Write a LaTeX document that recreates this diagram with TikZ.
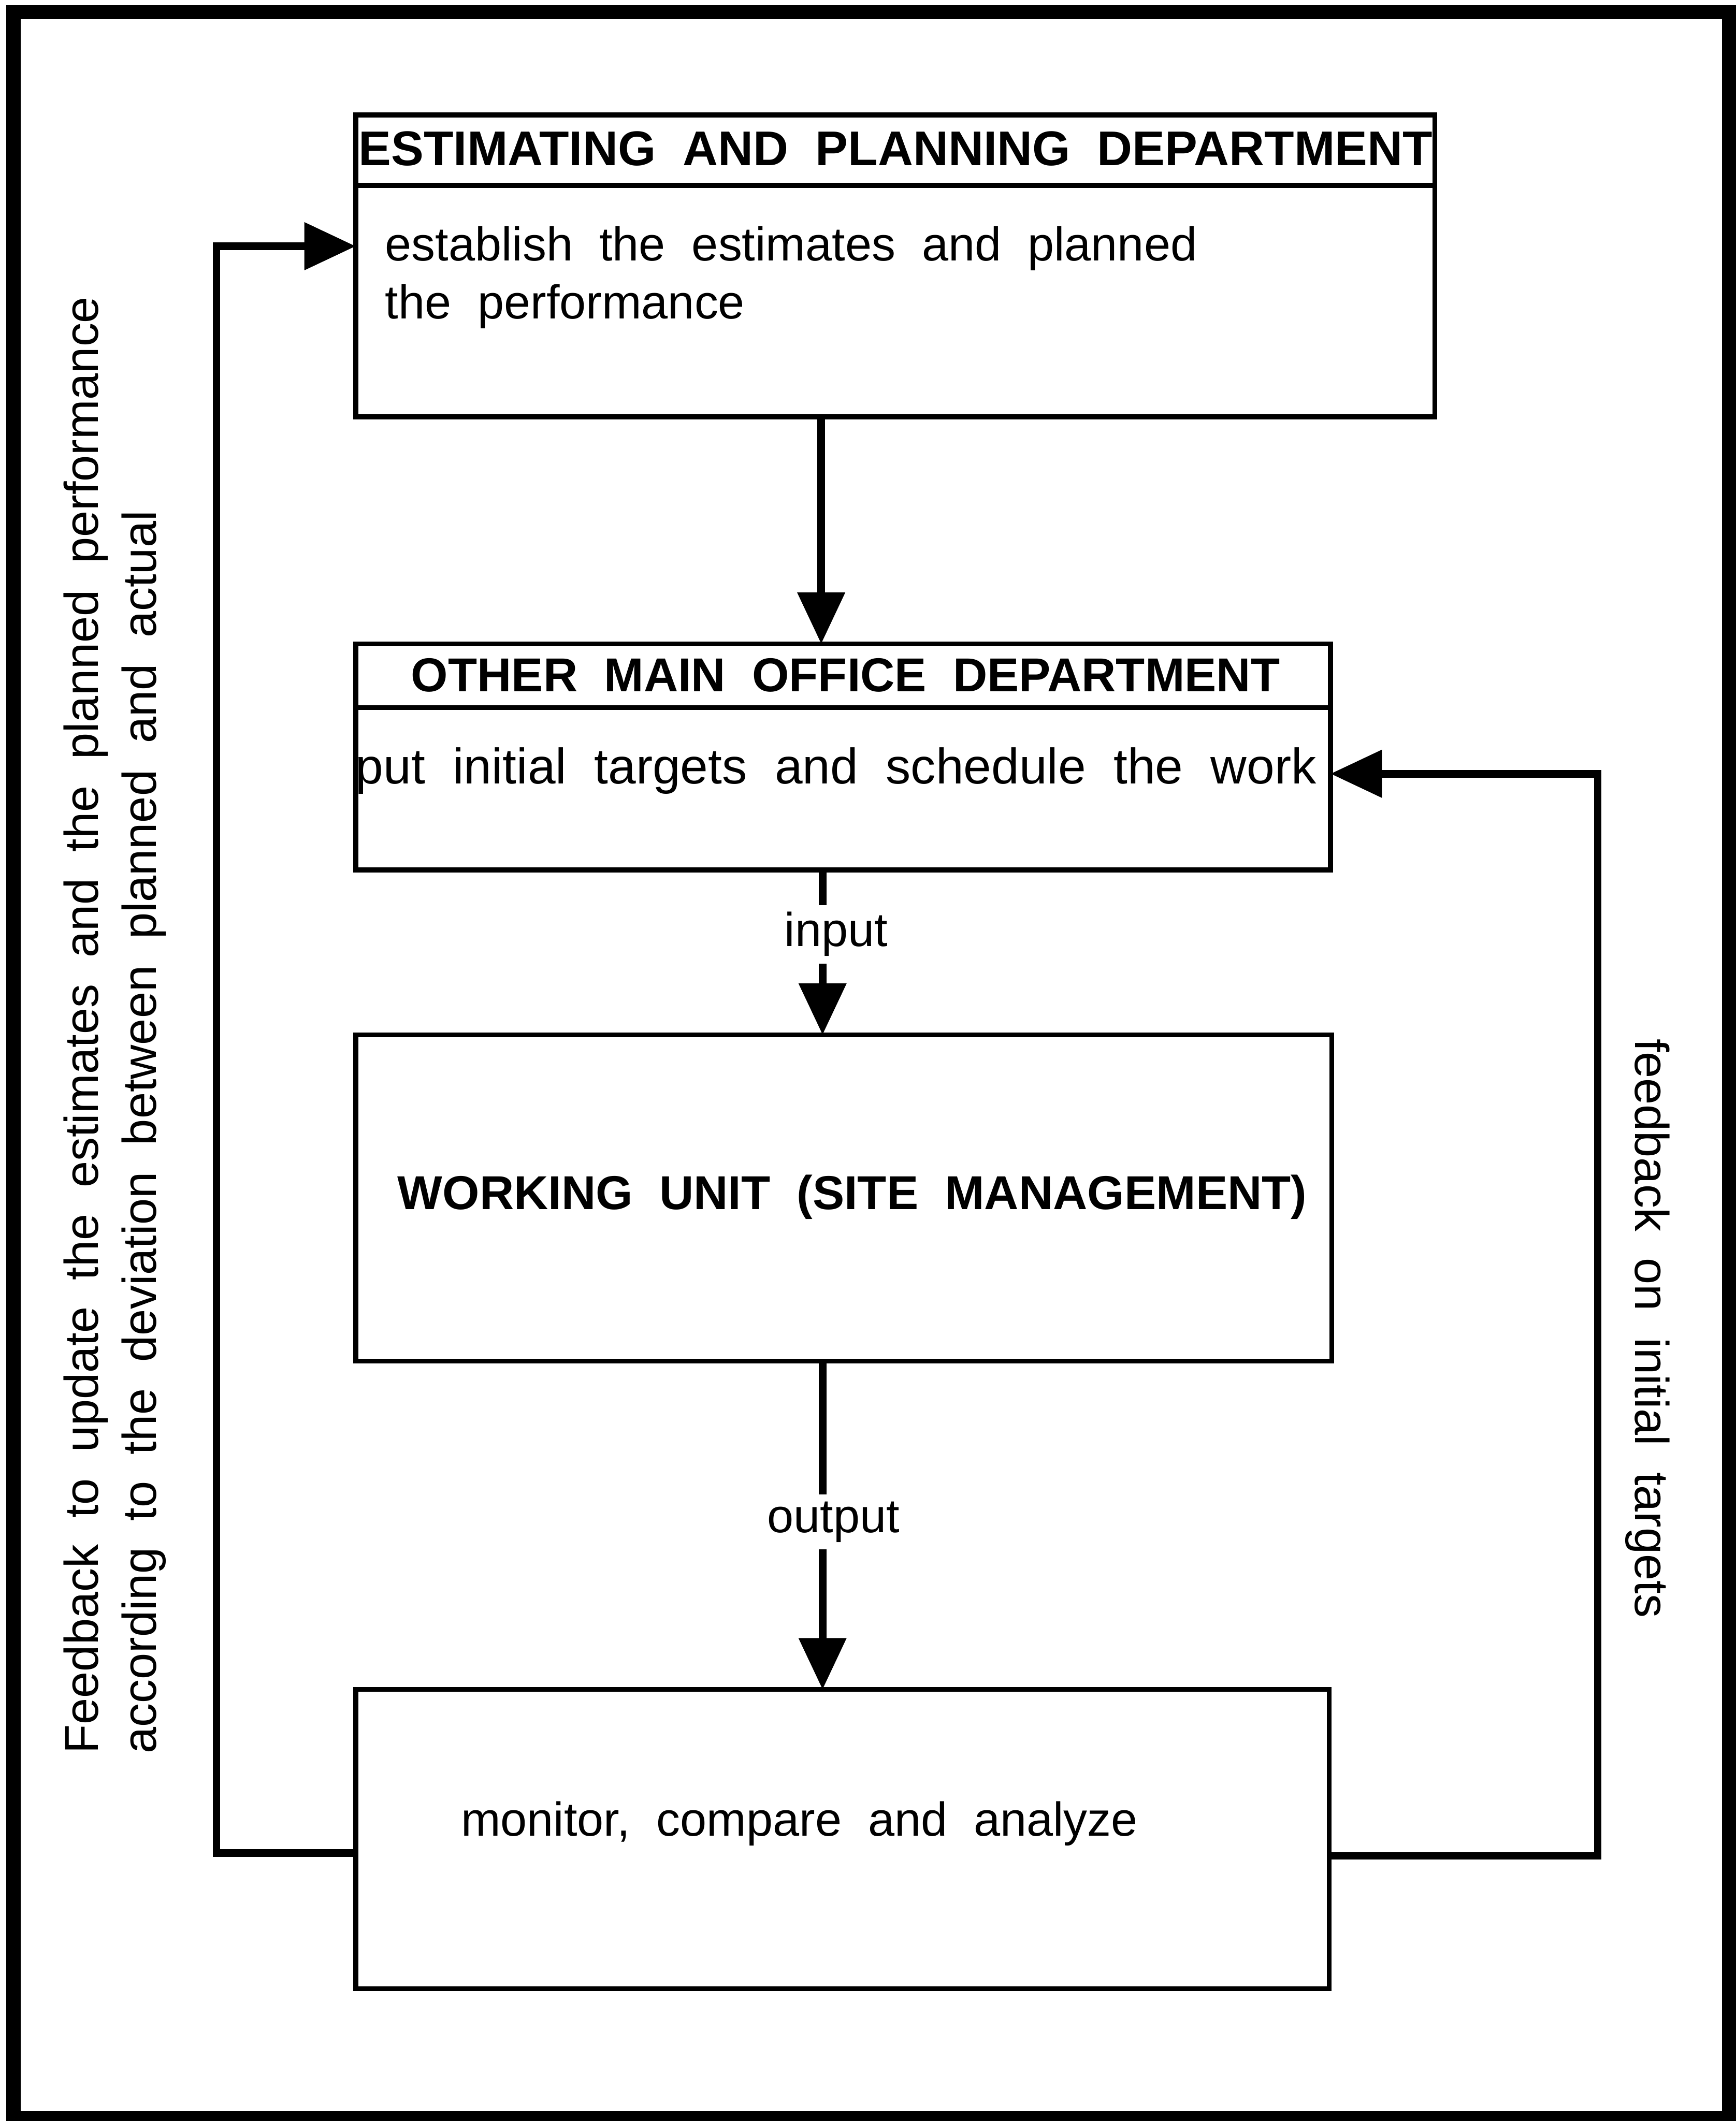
\documentclass[tikz,border=0pt]{standalone}
\usepackage{fontspec}
\setmainfont{Liberation Sans}[WordSpace=2]
\usetikzlibrary{arrows.meta}
\begin{document}
\begin{tikzpicture}[x=0.01cm,y=-0.01cm,
  boxline/.style={line width=1pt},
  box/.style={draw, line width=1pt, inner sep=0pt, outer sep=0pt, anchor=north west},
  txt/.style={inner sep=0pt, font=\fontsize{10}{12.2}\selectfont},
  head/.style={inner sep=0pt, font=\fontsize{10}{12.2}\selectfont\bfseries},
  conn/.style={line width=1.6pt, -{Triangle[length=0.38cm,width=0.34cm]}},
  lbl/.style={fill=white, inner xsep=2pt, inner ysep=1.5pt, font=\fontsize{10}{12.2}\selectfont}]

\useasboundingbox (0,0) rectangle (1283,1568);
% outer frame
\draw[line width=3pt] (10,9) rectangle (1278,1566);

% the four blocks
\node[box, minimum width=7.97cm, minimum height=2.23cm] (est) at (263,85) {};
\node[box, minimum width=7.20cm, minimum height=1.67cm] (omo) at (263,476) {};
\node[box, minimum width=7.21cm, minimum height=2.41cm] (wu) at (263,765) {};
\node[box, minimum width=7.19cm, minimum height=2.21cm] (mon) at (263,1249) {};

% title rules
\draw[boxline] ([yshift=-0.52cm]est.north west) -- ([yshift=-0.52cm]est.north east);
\draw[boxline] ([yshift=-0.47cm]omo.north west) -- ([yshift=-0.47cm]omo.north east);

% block texts
\node[head, font=\fontsize{10.25}{12.2}\selectfont\bfseries] (estH) at (662,110) {ESTIMATING AND PLANNING DEPARTMENT};
\node[txt, anchor=west, align=left] (estT) at (284,205) {establish the estimates and planned\\the performance};
\node[head] (omoH) at (625,499) {OTHER MAIN OFFICE DEPARTMENT};
\node[txt, font=\fontsize{10.5}{12.2}\selectfont] (omoT) at (618,570) {put initial targets and schedule the work};
\node[head] (wuT) at (630,885) {WORKING UNIT (SITE MANAGEMENT)};
\node[txt, anchor=west] (monT) at (340,1348) {monitor, compare and analyze};

% main flow
\coordinate (c1) at (607,0);
\coordinate (c2) at (608,0);
\draw[conn] (c1 |- est.south) -- (c1 |- omo.north);
\draw[conn] (c2 |- omo.south) -- node[lbl, pos=0.39, xshift=0.1cm] (inL) {input} (c2 |- wu.north);
\draw[conn] (c2 |- wu.south) -- node[lbl, pos=0.49, xshift=0.08cm] (outL) {output} (c2 |- mon.north);

% feedback loops
\coordinate (Lb) at (160,1370);
\coordinate (Lt) at (160,182);
\draw[conn] (Lb -| mon.west) -- (Lb) -- (Lt) -- (Lt -| est.west);
\coordinate (Rb) at (1181,1372);
\coordinate (Rt) at (1181,572);
\draw[conn] (Rb -| mon.east) -- (Rb) -- (Rt) -- (Rt -| omo.east);

% loop captions
\node[txt, rotate=90, anchor=west, align=left] (fbL) at (85,1297)
  {Feedback to update the estimates and the planned performance\\according to the deviation between planned and actual};
\node[txt, rotate=-90] (fbR) at (1218,982) {feedback on initial targets};
\end{tikzpicture}
\end{document}
